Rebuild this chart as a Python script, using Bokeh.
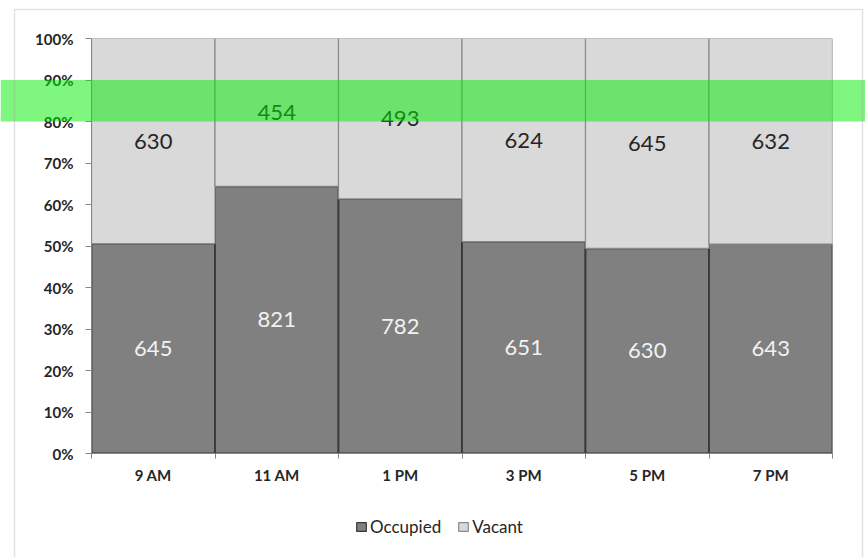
from bokeh.plotting import figure
from bokeh.layouts import column
from bokeh.models import (ColumnDataSource, FixedTicker, NumeralTickFormatter,
                          BoxAnnotation, Legend, LegendItem, Range1d)
from bokeh.core.properties import value
from bokeh.embed import file_html
from bokeh.resources import INLINE

# ---- data ----
categories = ["9 AM", "11 AM", "1 PM", "3 PM", "5 PM", "7 PM"]
occupied = [645, 821, 782, 651, 630, 643]
vacant = [630, 454, 493, 624, 645, 632]
series_names = ["Occupied", "Vacant"]
y_ticks = [0.0, 0.1, 0.2, 0.3, 0.4, 0.5, 0.6, 0.7, 0.8, 0.9, 1.0]
highlight_low = 0.80
highlight_high = 0.90

n = len(categories)
totals = [o + v for o, v in zip(occupied, vacant)]
occ_share = [o / t for o, t in zip(occupied, totals)]
xpos = [i + 0.5 for i in range(n)]

src = ColumnDataSource(dict(
    x=xpos,
    occ=occ_share,
    top=[1.0] * n,
    occ_mid=[s / 2 for s in occ_share],
    vac_mid=[s + (1 - s) / 2 for s in occ_share],
    occ_lbl=[str(o) for o in occupied],
    vac_lbl=[str(v) for v in vacant],
))

FONT = "Lato"
W, H = 865, 557
FL, FR, FT, FB = 91, 832, 38, 453   # frame edges in pixels
OCC_FILL, OCC_LINE = "#808080", "#383838"
VAC_FILL, VAC_LINE = "#d9d9d9", "#8a8a8a"

p = figure(width=W, height=H, output_backend="svg", toolbar_location=None,
           x_range=Range1d(0, n), y_range=Range1d(0, 1),
           min_border_left=FL, min_border_right=W - FR, min_border_top=FT,
           min_border_bottom=H - FB)
p.frame_align = False
p.outline_line_color = None
p.xgrid.visible = False
p.ygrid.visible = False

p.vbar(x="x", bottom=0, top="occ", width=1.0, source=src,
       fill_color=OCC_FILL, line_color=OCC_LINE, line_width=1.8)
p.vbar(x="x", bottom="occ", top="top", width=1.0, source=src,
       fill_color=VAC_FILL, line_color=VAC_LINE, line_width=1.2)

p.text(x="x", y="occ_mid", text="occ_lbl", source=src, text_align="center",
       text_baseline="middle", text_color="#f2f2f2", text_font=value(FONT),
       text_font_size="22px")
p.text(x="x", y="vac_mid", text="vac_lbl", source=src, text_align="center",
       text_baseline="middle", text_color="#262626", text_font=value(FONT),
       text_font_size="22px")

# y axis
ya = p.yaxis[0]
ya.ticker = FixedTicker(ticks=y_ticks)
ya.formatter = NumeralTickFormatter(format="0%")
ya.axis_line_color = "#868686"
ya.major_tick_line_color = "#868686"
ya.major_tick_out = 6
ya.major_tick_in = 0
ya.minor_tick_line_color = None
ya.major_label_text_font = FONT
ya.major_label_text_font_style = "bold"
ya.major_label_text_font_size = "15px"
ya.major_label_text_color = "#262626"
ya.major_label_standoff = 12

# x axis
xa = p.xaxis[0]
xa.ticker = FixedTicker(ticks=xpos, minor_ticks=list(range(n + 1)))
xa.major_label_overrides = {x: c for x, c in zip(xpos, categories)}
xa.axis_line_color = "#868686"
xa.major_tick_line_color = None
xa.major_tick_out = 0
xa.major_tick_in = 0
xa.minor_tick_line_color = "#868686"
xa.minor_tick_out = 5
xa.minor_tick_in = 0
xa.major_label_text_font = FONT
xa.major_label_text_font_style = "bold"
xa.major_label_text_font_size = "15px"
xa.major_label_text_color = "#262626"
xa.major_label_standoff = 7

# ---- transparent overlay covering the whole page:
#      highlight band, outer chart border and the legend ----
span_px = FB - FT
o = figure(width=W, height=H, output_backend="svg", toolbar_location=None,
           x_range=Range1d(0, W),
           y_range=Range1d(-(H - FB) / span_px, 1 + FT / span_px),
           min_border=0, x_axis_location=None, y_axis_location=None)
o.frame_align = False
o.outline_line_color = None
o.xgrid.visible = False
o.ygrid.visible = False
o.background_fill_alpha = 0
o.border_fill_alpha = 0

# legend swatches: muted (fully transparent) renderers that only give the
# legend its glyphs; the legend itself draws their normal look
k_occ = o.vbar(x="x", top="occ", width=1, source=src,
               fill_color=OCC_FILL, line_color=OCC_LINE, line_width=1.2,
               muted_fill_alpha=0, muted_line_alpha=0)
k_vac = o.vbar(x="x", top="occ", width=1, source=src,
               fill_color=VAC_FILL, line_color=VAC_LINE, line_width=1.2,
               muted_fill_alpha=0, muted_line_alpha=0)
k_occ.muted = True
k_vac.muted = True
legend = Legend(items=[LegendItem(label=series_names[0], renderers=[k_occ]),
                       LegendItem(label=series_names[1], renderers=[k_vac])],
                orientation="horizontal", location=(355, 20),
                border_line_color=None, background_fill_alpha=0,
                padding=0, margin=0, spacing=16, label_standoff=3,
                glyph_width=12, glyph_height=11, label_height=20,
                label_text_font=FONT, label_text_font_size="17px",
                label_text_color="#262626", click_policy="none")
o.add_layout(legend, "center")

o.add_layout(BoxAnnotation(bottom=highlight_low, top=highlight_high,
                           fill_color="#00ee00", fill_alpha=0.5, line_color=None))
o.add_layout(BoxAnnotation(left=14, right=862, top=9, bottom=H + 20,
                           left_units="canvas", right_units="canvas",
                           top_units="canvas", bottom_units="canvas",
                           fill_color=None, fill_alpha=0,
                           line_color="#a0a0a0", line_width=1.5))
o.styles = {"position": "absolute", "left": "0px", "top": "0px",
            "z-index": "5", "pointer-events": "none"}

layout = column(p, o)

open("out.html", "w").write(file_html(layout, INLINE))
